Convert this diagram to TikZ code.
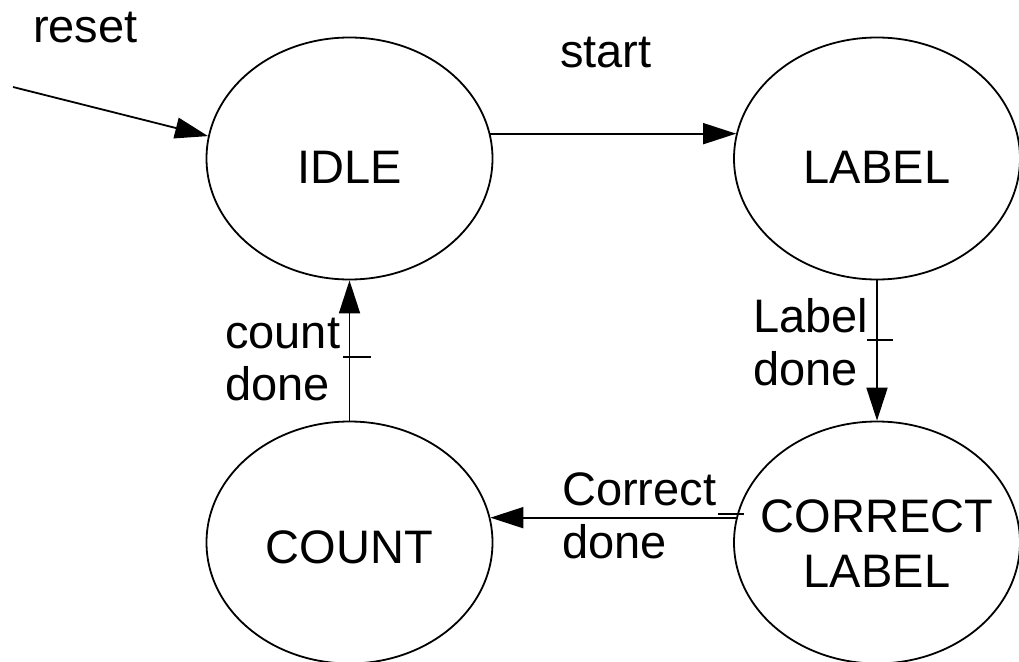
\documentclass[tikz,border=0pt]{standalone}
\usepackage{fontspec}
\setmainfont{Liberation Sans}
\usetikzlibrary{arrows.meta,shapes.geometric}
\begin{document}
\begin{tikzpicture}[x=1pt,y=-1pt,
  state/.style={draw, ellipse, line width=1.8pt, minimum width=286pt, minimum height=242pt, inner sep=0pt},
  txt/.style={inner sep=0pt, font=\fontsize{47}{54}\selectfont},
  edge/.style={line width=1.8pt, -{Triangle[length=33pt,width=21pt]}},
  tickmark/.style={line width=1.8pt}]

\fill[white] (0,0) rectangle (1019,661);
\useasboundingbox (0,0) rectangle (1019,661);

% states
\node[state] (idle)    at (349.5,158.5) {};
\node[state] (label)   at (877,158.5)   {};
\node[state] (count)   at (349.5,542.5) {};
\node[state] (correct) at (877,542.5)   {};

% state names (multi-line nodes sit on the baseline of their last line)
\node[txt, anchor=base] (idletext)  at (349.5,183) {IDLE};
\node[txt, anchor=base] (labeltext) at (877,183)   {LABEL};
\node[txt, anchor=base] (counttext) at (349.5,563) {COUNT};
\node[txt, anchor=base, align=center, font=\fontsize{47}{55}\selectfont] (correcttext) at (877,587) {CORRECT\\LABEL};

% transition conditions
\node[txt, anchor=base west] (resetlbl) at (33,43) {reset};
\node[txt, anchor=base west] (startlbl) at (560,67) {start};
\node[txt, anchor=base west, align=left, font=\fontsize{47}{52}\selectfont] (countlbl) at (225,400) {count\\done};
\node[txt, anchor=base west, align=left, font=\fontsize{47}{53}\selectfont] (labellbl) at (753,385) {Label\\done};
\node[txt, anchor=base west, align=left, font=\fontsize{47}{53}\selectfont] (correctlbl) at (562,558) {Correct\\done};

% transitions
\coordinate (rs) at (13,87);
\draw[edge] (rs) -- (idle.171);
\draw[edge] (idle.10) -- (label.170);
\draw[edge] (label.south) -- (correct.north);
\draw[edge] (correct.170) -- (count.10);
\draw[edge] (count.north) -- (idle.south);

% small cross strokes on the transitions
\draw[tickmark] (343,357) -- (371,357);
\draw[tickmark] (867,340) -- (893,340);
\draw[tickmark] (718,514) -- (744,514);
\end{tikzpicture}
\end{document}
